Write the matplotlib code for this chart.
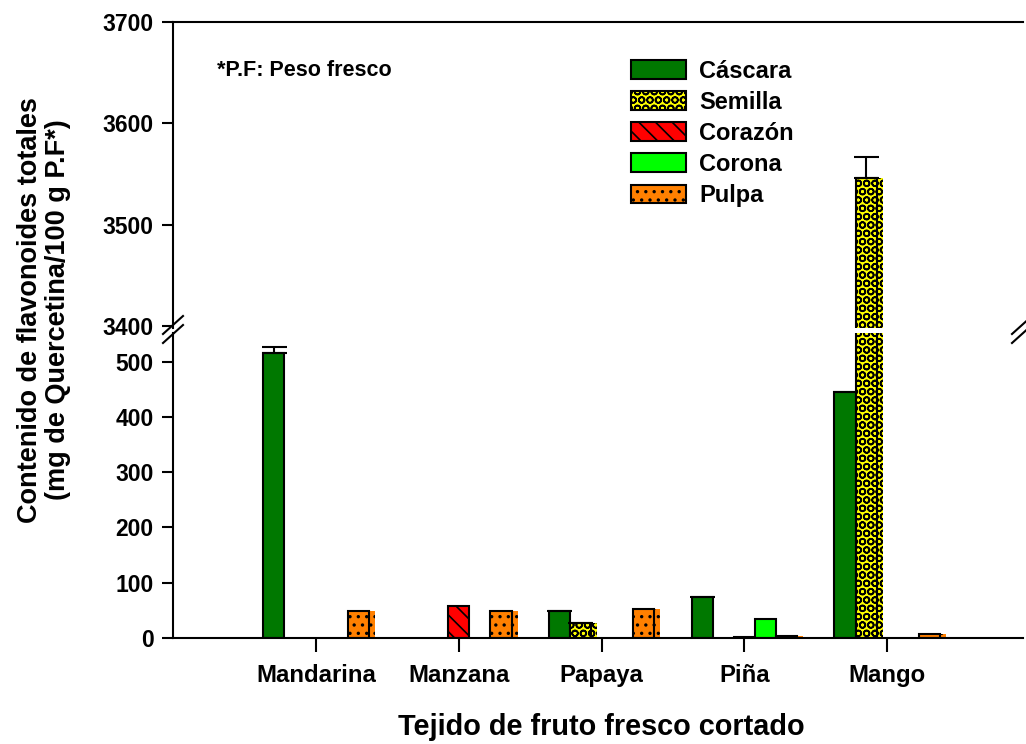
import numpy as np
import matplotlib
matplotlib.use("Agg")
import matplotlib.pyplot as plt
from matplotlib.lines import Line2D

plt.rcParams['font.family'] = ['Liberation Sans', 'DejaVu Sans']
plt.rcParams['font.weight'] = 'bold'
plt.rcParams['hatch.linewidth'] = 1.2
plt.rcParams['hatch.color'] = 'black'

nan = np.nan
frutas = ['Mandarina', 'Manzana', 'Papaya', 'Piña', 'Mango']
tejidos = ['Cáscara', 'Semilla', 'Corazón', 'Corona', 'Pulpa']

# mg quercetina / 100 g peso fresco
cascara = [516, nan, 49, 75, 446]
semilla = [nan, nan, 27, nan, 3546]
corazon = [nan, 58, nan, 1, nan]
corona = [nan, nan, nan, 35, nan]
pulpa = [49, 49, 52, 3, 7]

cascara_err = [11, nan, nan, nan, nan]
semilla_err = [nan, nan, nan, nan, 21]

valores = [cascara, semilla, corazon, corona, pulpa]
errores = [cascara_err, semilla_err, None, None, None]
colores = ['#007800', '#FFFF00', '#FF0000', '#00FF00', '#FF8000']
tramas = ['', 'OO', '\\\\', '', '..']
sombra = [False, True, False, False, True]

W, H = 1026, 744


def caja(x0, y0, x1, y1):
    return [x0 / W, 1 - y1 / H, (x1 - x0) / W, (y1 - y0) / H]


fig = plt.figure(figsize=(W / 100, H / 100), dpi=100)
ax_top = fig.add_axes(caja(173, 22, 1023, 328))
ax_low = fig.add_axes(caja(173, 333, 1023, 638))

x = np.arange(len(frutas))
ancho = 0.148
handles = []
for ax in (ax_top, ax_low):
    for i, (vals, col, h) in enumerate(zip(valores, colores, tramas)):
        pos = x + (i - 2) * ancho
        if sombra[i]:
            ax.bar(pos + 0.042, vals, ancho, color=col, edgecolor='black',
                   linewidth=0, hatch=h, zorder=1)
        b = ax.bar(pos, vals, ancho, color=col, edgecolor='black',
                   linewidth=1.5, hatch=h, zorder=2, label=tejidos[i])
        if ax is ax_low:
            handles.append(b)
        if errores[i] is not None:
            err = np.array(errores[i], dtype=float)
            ax.errorbar(pos, vals, yerr=[np.zeros_like(err), err], fmt='none',
                        ecolor='black', elinewidth=1.5, capsize=9,
                        capthick=1.5, zorder=3)

for ax in (ax_top, ax_low):
    ax.set_xlim(-1.0, 4.95)
    ax.spines['right'].set_visible(False)
    for s in ax.spines.values():
        s.set_linewidth(1.5)
    ax.tick_params(axis='y', direction='out', length=8, width=1.5,
                   labelsize=16.5, pad=6)

ax_top.set_ylim(3398, 3700)
ax_top.set_yticks([3400, 3500, 3600, 3700])
ax_top.spines['bottom'].set_visible(False)
ax_top.tick_params(axis='x', bottom=False, labelbottom=False)

ax_low.set_ylim(0, 552)
ax_low.set_yticks([0, 100, 200, 300, 400, 500])
ax_low.spines['top'].set_visible(False)
ax_low.set_xticks(x)
ax_low.set_xticklabels(frutas)
ax_low.tick_params(axis='x', direction='out', length=10, width=1.5,
                   labelsize=17.2, pad=9)

# break marks on the y axis
for xc in (173, 1022):
    for yc in (325, 334):
        fig.add_artist(Line2D([(xc - 10) / W, (xc + 10) / W],
                              [1 - (yc + 9) / H, 1 - (yc - 9) / H],
                              transform=fig.transFigure, color='black', lw=1.5))

ax_top.legend(handles=handles, loc='upper left',
              bbox_to_anchor=(631 / W, 1 - 60 / H),
              bbox_transform=fig.transFigure, frameon=False,
              fontsize=17, handlelength=2.35, handleheight=0.85,
              handletextpad=0.55, labelspacing=0.34, borderpad=0,
              borderaxespad=0)

fig.text(217 / W, 1 - 70 / H, '*P.F: Peso fresco', fontsize=15.5,
         fontweight='bold', ha='left', va='center')
fig.text(601 / W, 1 - 727 / H, 'Tejido de fruto fresco cortado',
         fontsize=20.8, fontweight='bold', ha='center', va='center')
fig.text(44 / W, 1 - 310 / H,
         'Contenido de flavonoides totales\n(mg de Quercetina/100 g P.F*)',
         fontsize=19.5, fontweight='bold', ha='center', va='center',
         rotation=90, linespacing=1.1)

fig.savefig('out.png', dpi=100)
